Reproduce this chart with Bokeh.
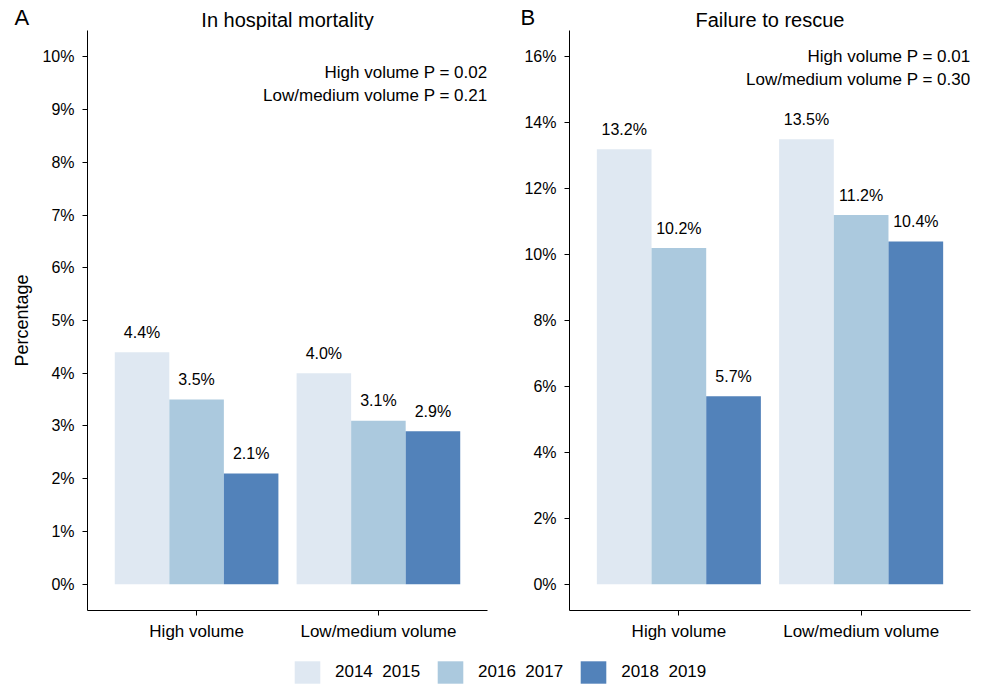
from bokeh.plotting import figure
from bokeh.models import (FactorRange, Range1d, FixedTicker, CustomJSTickFormatter,
                          ColumnDataSource, Label, Legend, LegendItem)
from bokeh.transform import dodge
from bokeh.layouts import column, row
from bokeh.embed import file_html
from bokeh.resources import INLINE
from bokeh.core.properties import value

# ---------------- data ----------------
categories = ["High volume", "Low/medium volume"]
periods = ["2014  2015", "2016  2017", "2018  2019"]

mortality_2014_2015 = [4.4, 4.0]
mortality_2016_2017 = [3.5, 3.1]
mortality_2018_2019 = [2.1, 2.9]

ftr_2014_2015 = [13.2, 13.5]
ftr_2016_2017 = [10.2, 11.2]
ftr_2018_2019 = [5.7, 10.4]

mortality_ticks = list(range(0, 11, 1))
ftr_ticks = list(range(0, 17, 2))

mortality_pvalues = ["High volume P = 0.02", "Low/medium volume P = 0.21"]
ftr_pvalues = ["High volume P = 0.01", "Low/medium volume P = 0.30"]

panel_letters = ["A", "B"]
panel_titles = ["In hospital mortality", "Failure to rescue"]

colors = ["#dfe8f2", "#abc9de", "#5282ba"]
FONT = "Liberation Sans"
HEAD_H = 30
PANEL_H = 620
A_W, A_BL, A_BR = 490, 87, 3
B_W, B_BL, B_BR = 486, 79, 6
TOTAL_W = A_W + B_W


def make_panel(series, ticks, ylim, pvals, pval_y, width,
               border_left, border_right, ylabel=None):
    p = figure(x_range=FactorRange(*categories, range_padding=0.1),
               y_range=Range1d(*ylim), width=width, height=PANEL_H,
               output_backend="svg", toolbar_location=None,
               min_border_left=border_left, min_border_right=border_right,
               min_border_top=0, min_border_bottom=40)
    p.outline_line_color = None
    p.grid.visible = False
    p.background_fill_color = "white"

    offsets = [-0.3, 0.0, 0.3]
    for vals, col, off in zip(series, colors, offsets):
        src = ColumnDataSource(dict(cat=categories, val=vals,
                                    lab=[f"{v:.1f}%" for v in vals]))
        xd = dodge("cat", off, range=p.x_range)
        p.vbar(x=xd, top="val", bottom=0, width=0.3, source=src,
               fill_color=col, line_color=None)
        p.text(x=xd, y="val", text="lab", source=src, text_align="center",
               text_baseline="alphabetic", y_offset=-20,
               text_font=value(FONT), text_font_size="16px", text_color="black")

    # axes
    p.yaxis.ticker = FixedTicker(ticks=ticks)
    p.yaxis.formatter = CustomJSTickFormatter(code="return tick + '%';")
    for ax in (p.xaxis[0], p.yaxis[0]):
        ax.axis_line_color = "black"
        ax.axis_line_width = 1
        ax.major_tick_line_color = "black"
        ax.major_tick_out = 5
        ax.major_tick_in = 0
        ax.minor_tick_line_color = None
        ax.major_label_text_font = FONT
        ax.major_label_text_color = "black"
    p.yaxis.major_label_text_font_size = "16px"
    p.yaxis.major_label_standoff = 8
    p.xaxis.major_label_text_font_size = "17px"
    p.xaxis.major_label_standoff = 6
    if ylabel:
        p.yaxis.axis_label = ylabel
        p.yaxis.axis_label_text_font = FONT
        p.yaxis.axis_label_text_font_size = "18px"
        p.yaxis.axis_label_text_font_style = "normal"
        p.yaxis.axis_label_text_color = "black"
        p.yaxis.axis_label_standoff = 7

    # p-values, right aligned at right edge of the panel
    for txt, yy in zip(pvals, pval_y):
        p.add_layout(Label(x=2.1, y=yy, text=txt, text_align="right",
                           text_baseline="middle", text_font=FONT,
                           text_font_size="17px", text_color="black"))
    return p


pA = make_panel([mortality_2014_2015, mortality_2016_2017, mortality_2018_2019],
                mortality_ticks, (-0.5, 10.5), mortality_pvalues, [9.70, 9.26],
                width=A_W, border_left=A_BL, border_right=A_BR, ylabel="Percentage")
pB = make_panel([ftr_2014_2015, ftr_2016_2017, ftr_2018_2019],
                ftr_ticks, (-0.8, 16.8), ftr_pvalues, [16.0, 15.3],
                width=B_W, border_left=B_BL, border_right=B_BR)

# ---------------- header strip: panel letters and titles ----------------
head = figure(width=TOTAL_W, height=HEAD_H, x_range=Range1d(0, 1), y_range=Range1d(0, 1),
              output_backend="svg", toolbar_location=None, min_border=0,
              x_axis_location=None, y_axis_location=None)
head.outline_line_color = None
head.grid.visible = False
frame_centers = [A_BL + (A_W - A_BL - A_BR) / 2,
                 A_W + B_BL + (B_W - B_BL - B_BR) / 2]
letter_x = [14, 520]
for letter, lx, ttl, cx in zip(panel_letters, letter_x, panel_titles, frame_centers):
    head.add_layout(Label(x=lx, y=HEAD_H - 16.5, x_units="screen", y_units="screen",
                          text=letter, text_align="left", text_baseline="middle",
                          text_font=FONT, text_font_size="22px", text_color="black"))
    head.add_layout(Label(x=cx, y=HEAD_H - 19, x_units="screen", y_units="screen",
                          text=ttl, text_align="center", text_baseline="middle",
                          text_font=FONT, text_font_size="20px", text_color="black"))

# ---------------- legend strip ----------------
leg = figure(width=TOTAL_W, height=36, x_range=Range1d(0, 1), y_range=Range1d(0, 1),
             output_backend="svg", toolbar_location=None, min_border=0,
             x_axis_location=None, y_axis_location=None)
leg.outline_line_color = None
leg.grid.visible = False
items = []
for per, col in zip(periods, colors):
    # legend-only renderer, its point sits outside the visible range
    r = leg.vbar(x=[5], top=[5], bottom=[4], width=0.1, fill_color=col, line_color=None)
    items.append(LegendItem(label=per, renderers=[r]))
legend = Legend(items=items, orientation="horizontal", location=(291, 0),
                glyph_width=32, glyph_height=28, label_standoff=12, spacing=14,
                padding=0, margin=0, border_line_color=None,
                background_fill_alpha=0, label_text_font=FONT,
                label_text_font_size="17px", label_text_color="black")
leg.add_layout(legend)

layout = column(head, row(pA, pB, spacing=0), leg, spacing=0)
open("out.html", "w").write(file_html(layout, INLINE))
